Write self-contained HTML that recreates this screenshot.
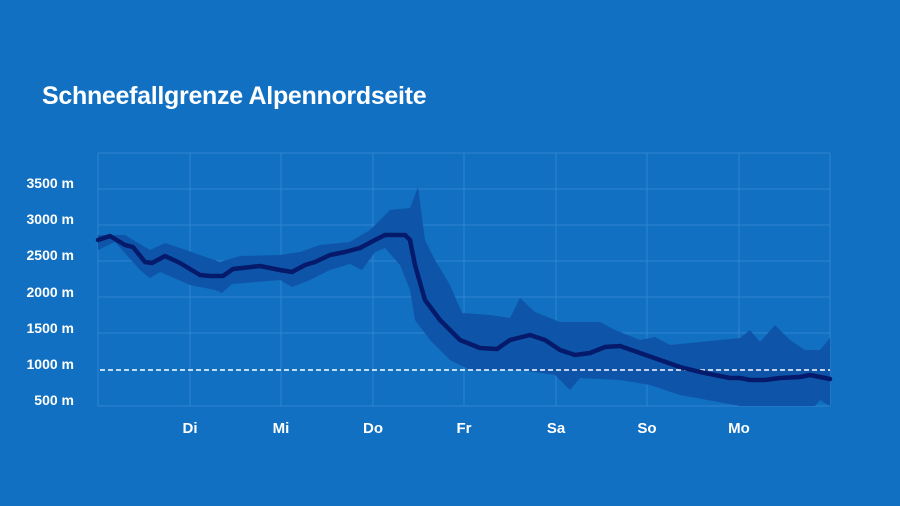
<!DOCTYPE html>
<html><head><meta charset="utf-8"><style>
html,body{margin:0;padding:0;background:#1170c2;}
svg{display:block;font-family:"Liberation Sans",sans-serif;}
</style></head><body>
<svg width="900" height="506" viewBox="0 0 900 506">
<rect width="900" height="506" fill="#1170c2"/>
<text x="42" y="104" fill="#fff" font-size="25" font-weight="bold" letter-spacing="-0.3">Schneefallgrenze Alpennordseite</text>
<g stroke="#2e85d0" stroke-width="1" fill="none">
<line x1="98" y1="153" x2="830" y2="153"/>
<line x1="98" y1="189" x2="830" y2="189"/>
<line x1="98" y1="225" x2="830" y2="225"/>
<line x1="98" y1="261" x2="830" y2="261"/>
<line x1="98" y1="297" x2="830" y2="297"/>
<line x1="98" y1="333" x2="830" y2="333"/>
<line x1="98" y1="406" x2="830" y2="406"/>
<line x1="98" y1="153" x2="98" y2="406"/>
<line x1="190" y1="153" x2="190" y2="406"/>
<line x1="281" y1="153" x2="281" y2="406"/>
<line x1="373" y1="153" x2="373" y2="406"/>
<line x1="464" y1="153" x2="464" y2="406"/>
<line x1="556" y1="153" x2="556" y2="406"/>
<line x1="647" y1="153" x2="647" y2="406"/>
<line x1="739" y1="153" x2="739" y2="406"/>
<line x1="830" y1="153" x2="830" y2="406"/>
</g>
<polygon fill="#0e55a9" points="98,235 125,235 150,250 165,243 180,248 220,262 240,256 280,255 300,252 320,245 350,242 370,230 390,210 410,208 418,187 425,240 435,260 450,285 462,313 490,315 510,318 520,298 535,312 560,322 600,322 615,330 640,340 655,337 670,345 720,340 740,338 750,330 760,342 775,325 790,340 805,350 820,350 830,338 830,406 820,400 815,406 740,406 680,395 650,385 620,380 580,378 570,390 555,375 520,370 470,370 450,360 430,340 415,320 410,290 400,265 385,248 375,252 362,270 350,264 330,270 310,280 292,287 280,280 232,284 222,293 215,290 190,285 160,272 150,278 140,270 115,242 98,250"/>
<line x1="100" y1="370" x2="830" y2="370" stroke="#fff" stroke-width="1.6" stroke-dasharray="5,3"/>
<polyline fill="none" stroke="#061a6b" stroke-width="4.5" stroke-linejoin="round" stroke-linecap="round" points="98,240 110,236 125,245 133,247 145,262 152,263 165,256 180,263 200,275 210,276 223,276 233,269 260,266 280,270 292,272 305,265 315,262 330,255 345,252 360,248 375,240 385,235 405,235 410,240 415,265 425,300 440,320 460,340 480,348 497,349 510,340 530,335 545,340 560,350 575,355 590,353 605,347 620,346 640,353 660,360 680,367 700,372 715,375 730,378 740,378 750,380 765,380 780,378 800,377 810,375 830,379"/>
<g fill="#fff" font-size="14" font-weight="bold" text-anchor="end">
<text x="74" y="188">3500 m</text>
<text x="74" y="224">3000 m</text>
<text x="74" y="260">2500 m</text>
<text x="74" y="297">2000 m</text>
<text x="74" y="333">1500 m</text>
<text x="74" y="369">1000 m</text>
<text x="74" y="405">500 m</text>
</g>
<g fill="#fff" font-size="15" font-weight="bold" text-anchor="middle">
<text x="190" y="433">Di</text>
<text x="281" y="433">Mi</text>
<text x="373" y="433">Do</text>
<text x="464" y="433">Fr</text>
<text x="556" y="433">Sa</text>
<text x="647" y="433">So</text>
<text x="739" y="433">Mo</text>
</g>
</svg>
</body></html>
